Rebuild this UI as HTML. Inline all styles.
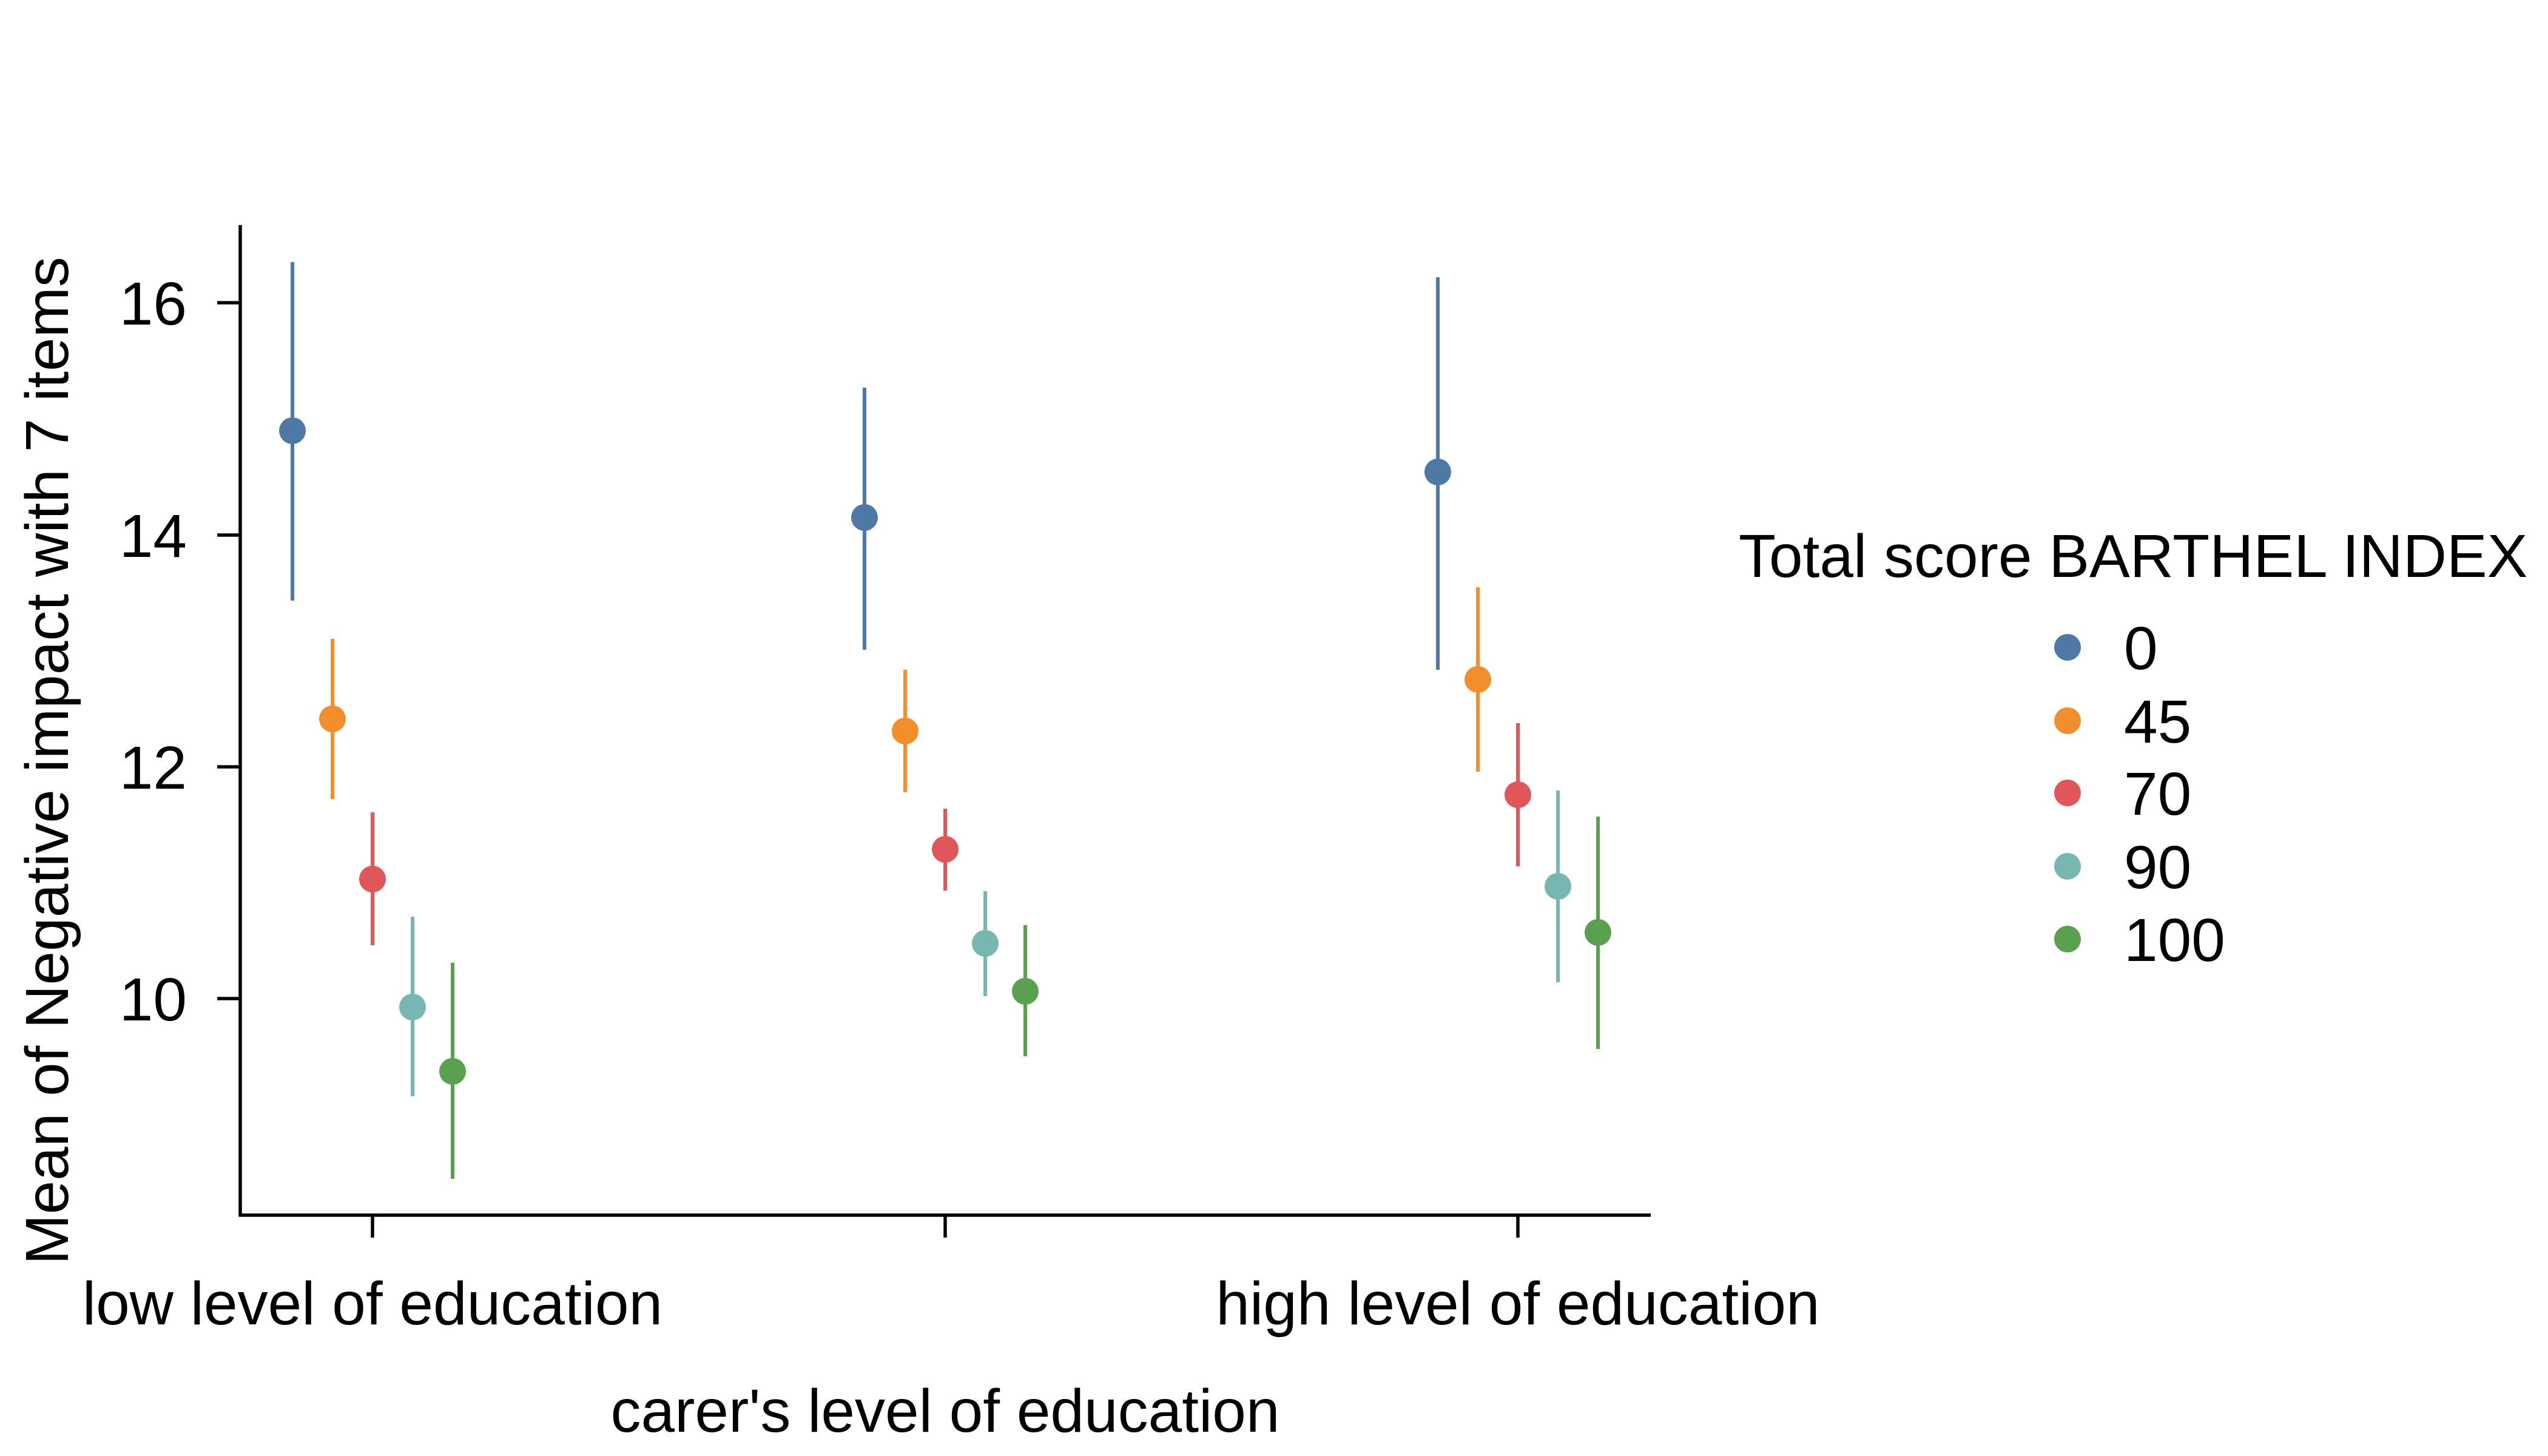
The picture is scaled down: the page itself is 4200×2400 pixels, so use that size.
<!DOCTYPE html>
<html><head><meta charset="utf-8"><style>html,body{margin:0;padding:0;background:#fff}svg{display:block}</style></head>
<body>
<svg width="4200" height="2400" viewBox="0 0 4200 2400" xmlns="http://www.w3.org/2000/svg" font-family="'Liberation Sans', sans-serif">
<rect width="4200" height="2400" fill="#fff"/>
<g stroke="#000" stroke-width="5.5" fill="none">
<line x1="396" y1="371" x2="396" y2="2005"/>
<line x1="394" y1="2003" x2="2721" y2="2003"/>
<line x1="358" y1="499" x2="396" y2="499"/>
<line x1="358" y1="882" x2="396" y2="882"/>
<line x1="358" y1="1264" x2="396" y2="1264"/>
<line x1="358" y1="1646" x2="396" y2="1646"/>
<line x1="614" y1="2003" x2="614" y2="2040"/>
<line x1="1558" y1="2003" x2="1558" y2="2040"/>
<line x1="2502" y1="2003" x2="2502" y2="2040"/>
</g>
<g font-size="100" fill="#000" text-anchor="end">
<text x="308" y="535">16</text>
<text x="308" y="918">14</text>
<text x="308" y="1300">12</text>
<text x="308" y="1682">10</text>
</g>
<text transform="translate(112,1254) rotate(-90)" font-size="100" text-anchor="middle">Mean of Negative impact with 7 items</text>
<g font-size="100" text-anchor="middle">
<text x="614" y="2183">low level of education</text>
<text x="2502" y="2183">high level of education</text>
<text x="1558" y="2360">carer's level of education</text>
</g>
<g stroke-width="6">
<line x1="482" y1="432" x2="482" y2="990" stroke="#4E79A7"/><circle cx="482" cy="710" r="22" fill="#4E79A7"/>
<line x1="548" y1="1053" x2="548" y2="1317" stroke="#F28E2B"/><circle cx="548" cy="1185" r="22" fill="#F28E2B"/>
<line x1="614" y1="1339" x2="614" y2="1558" stroke="#E15759"/><circle cx="614" cy="1449" r="22" fill="#E15759"/>
<line x1="680" y1="1511" x2="680" y2="1807" stroke="#76B7B2"/><circle cx="680" cy="1660" r="22" fill="#76B7B2"/>
<line x1="746" y1="1587" x2="746" y2="1943" stroke="#59A14F"/><circle cx="746" cy="1766" r="22" fill="#59A14F"/>

<line x1="1425" y1="639" x2="1425" y2="1071" stroke="#4E79A7"/><circle cx="1425" cy="853" r="22" fill="#4E79A7"/>
<line x1="1492" y1="1104" x2="1492" y2="1306" stroke="#F28E2B"/><circle cx="1492" cy="1205" r="22" fill="#F28E2B"/>
<line x1="1558" y1="1333" x2="1558" y2="1468" stroke="#E15759"/><circle cx="1558" cy="1400" r="22" fill="#E15759"/>
<line x1="1624" y1="1469" x2="1624" y2="1642" stroke="#76B7B2"/><circle cx="1624" cy="1555" r="22" fill="#76B7B2"/>
<line x1="1690" y1="1525" x2="1690" y2="1741" stroke="#59A14F"/><circle cx="1690" cy="1634" r="22" fill="#59A14F"/>

<line x1="2370" y1="457" x2="2370" y2="1104" stroke="#4E79A7"/><circle cx="2370" cy="778" r="22" fill="#4E79A7"/>
<line x1="2436" y1="968" x2="2436" y2="1272" stroke="#F28E2B"/><circle cx="2436" cy="1120" r="22" fill="#F28E2B"/>
<line x1="2502" y1="1192" x2="2502" y2="1428" stroke="#E15759"/><circle cx="2502" cy="1310" r="22" fill="#E15759"/>
<line x1="2568" y1="1303" x2="2568" y2="1619" stroke="#76B7B2"/><circle cx="2568" cy="1461" r="22" fill="#76B7B2"/>
<line x1="2634" y1="1346" x2="2634" y2="1729" stroke="#59A14F"/><circle cx="2634" cy="1537" r="22" fill="#59A14F"/>
</g>
<text x="2866" y="951" font-size="100">Total score BARTHEL INDEX</text>
<g font-size="100">
<circle cx="3408" cy="1067" r="22" fill="#4E79A7"/><text x="3501" y="1103">0</text>
<circle cx="3408" cy="1188" r="22" fill="#F28E2B"/><text x="3501" y="1224">45</text>
<circle cx="3408" cy="1307" r="22" fill="#E15759"/><text x="3501" y="1343">70</text>
<circle cx="3408" cy="1428" r="22" fill="#76B7B2"/><text x="3501" y="1464">90</text>
<circle cx="3408" cy="1548" r="22" fill="#59A14F"/><text x="3501" y="1584">100</text>
</g>
</svg>
</body></html>
